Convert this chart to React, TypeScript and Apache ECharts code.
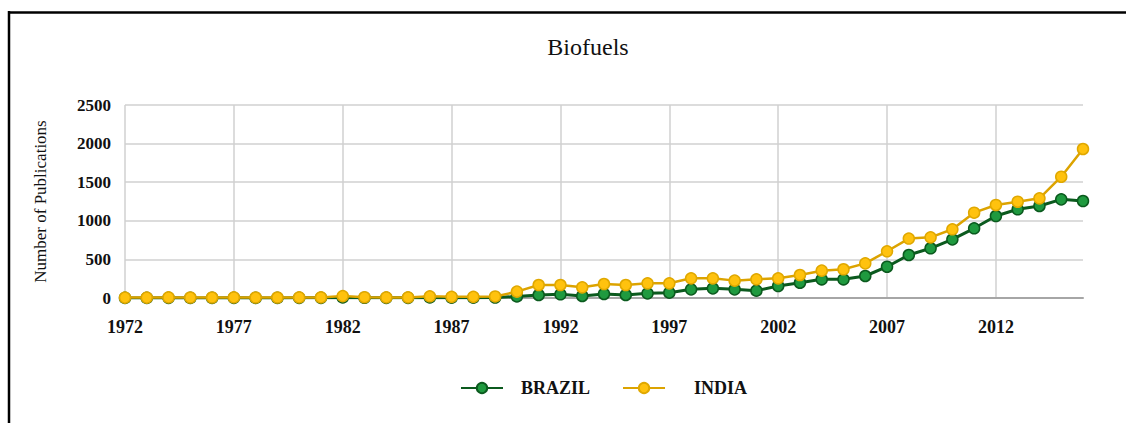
import React, { useEffect, useRef } from "react";
import * as echarts from "echarts";

const years: string[] = [];
for (let y = 1972; y <= 2016; y++) years.push(String(y));

const brazil = [
  1, 1, 2, 1, 1, 2, 1, 1, 2, 2, 8, 3, 2, 2, 8, 4, 4, 6,
  20, 39, 48, 26, 52, 39, 60, 69, 112, 125, 112, 95,
  155, 198, 242, 242, 285, 405, 557, 644, 760, 903, 1062, 1149, 1192, 1278, 1256,
];

const india = [
  5, 5, 8, 6, 6, 8, 6, 6, 8, 8, 25, 10, 8, 8, 22, 15, 15, 20,
  82, 168, 168, 138, 181, 168, 190, 190, 255, 255, 225, 242,
  255, 298, 354, 372, 449, 605, 770, 786, 890, 1105, 1205, 1247, 1291, 1571, 1930,
];

const yTicks = { min: 0, max: 2500, interval: 500 };

const SERIF = "'Liberation Serif', 'DejaVu Serif', serif";

export default function App() {
  const ref = useRef<HTMLDivElement>(null);
  useEffect(() => {
    if (!ref.current) return;
    const chart = echarts.init(ref.current, undefined, { renderer: "svg" });
    chart.setOption({
      animation: false,
      backgroundColor: "#ffffff",
      title: {
        text: "Biofuels",
        left: 583,
        textAlign: "center",
        top: 30,
        textStyle: { fontFamily: SERIF, fontSize: 24, fontWeight: "normal", color: "#111" },
      },
      graphic: [
        { type: "line", shape: { x1: 9, y1: 11, x2: 9, y2: 423 }, style: { stroke: "#000", lineWidth: 2.5 } },
        { type: "line", shape: { x1: 8, y1: 12.5, x2: 1126, y2: 12.5 }, style: { stroke: "#000", lineWidth: 2.5 } },
      ],
      legend: {
        bottom: 21,
        left: 455,
        itemWidth: 42,
        itemHeight: 13,
        itemGap: 32,
        textStyle: {
          fontFamily: SERIF,
          fontSize: 18,
          fontWeight: "bold",
          color: "#111",
          padding: [0, 0, 0, 13],
        },
        data: [
          { name: "BRAZIL" },
          { name: "INDIA", textStyle: { padding: [0, 0, 0, 24] } },
        ],
      },
      grid: { left: 125, right: 43, top: 105, bottom: 125, containLabel: false },
      xAxis: {
        type: "category",
        data: years,
        boundaryGap: false,
        axisLine: { lineStyle: { color: "#a6a6a6", width: 2 } },
        axisTick: { show: false },
        axisLabel: {
          interval: 4,
          fontFamily: SERIF,
          fontSize: 18,
          fontWeight: "bold",
          color: "#111",
          margin: 20,
        },
        splitLine: { show: true, interval: 4, lineStyle: { color: "#d0d0d0", width: 1.5 } },
      },
      yAxis: {
        type: "value",
        min: yTicks.min,
        max: yTicks.max,
        interval: yTicks.interval,
        name: "Number of Publications",
        nameLocation: "middle",
        nameGap: 76,
        nameTextStyle: { fontFamily: SERIF, fontSize: 17, color: "#111" },
        axisLine: { show: false },
        axisTick: { show: false },
        axisLabel: {
          fontFamily: SERIF,
          fontSize: 17,
          fontWeight: "bold",
          color: "#111",
          margin: 14,
          formatter: (v: number) => String(v),
        },
        splitLine: { lineStyle: { color: "#d0d0d0", width: 1.5 } },
      },
      series: [
        {
          name: "BRAZIL",
          type: "line",
          data: brazil,
          symbol: "circle",
          symbolSize: 11,
          lineStyle: { color: "#0b5a1e", width: 3 },
          itemStyle: { color: "#1f9a3f", borderColor: "#0b5a1e", borderWidth: 1.5 },
          z: 2,
        },
        {
          name: "INDIA",
          type: "line",
          data: india,
          symbol: "circle",
          symbolSize: 11,
          lineStyle: { color: "#dca300", width: 2.5 },
          itemStyle: { color: "#ffc20e", borderColor: "#e0a800", borderWidth: 1.5 },
          z: 3,
        },
      ],
    });
    return () => chart.dispose();
  }, []);
  return (
    <div
      ref={ref}
      style={{ position: "fixed", left: 0, top: 0, width: 1126, height: 423, background: "#fff" }}
    />
  );
}
